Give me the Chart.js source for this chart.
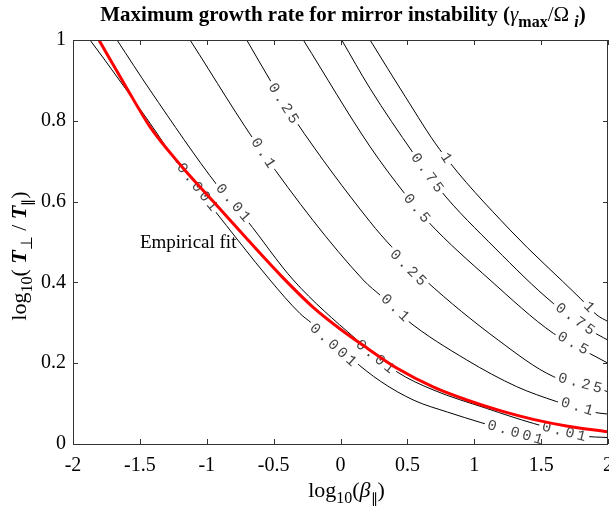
<!DOCTYPE html>
<html>
<head>
<meta charset="utf-8">
<script src="https://cdn.jsdelivr.net/npm/chart.js@4.4.1/dist/chart.umd.min.js"></script>
<style>
  html, body { margin: 0; padding: 0; background: #fff; }
  #wrap { width: 609px; height: 508px; }
</style>
</head>
<body>
<div id="wrap"><canvas id="myChart"></canvas></div>
<script>
// x = log10(beta_par), y = log10(Tperp/Tpar)
const fitX = [-1.806, -1.6, -1.424, -1.2, -0.951, -0.7, -0.44, -0.2, 0.0, 0.2, 0.42, 0.7, 0.944, 1.2, 1.441, 1.7, 2.0];
const fitY = [1.0, 0.882, 0.785, 0.692, 0.600, 0.508, 0.415, 0.337, 0.284, 0.237, 0.188, 0.140, 0.109, 0.082, 0.061, 0.044, 0.030];

const c0001X = [-1.873, -1.761, -1.424, -1.200, -0.963, -0.527, -0.303, -0.215, 0.093, 0.3, 0.55, 0.8, 1.05, 1.305, 1.47, 1.5];
const c0001Y = [1.0, 0.950, 0.794, 0.686, 0.587, 0.406, 0.323, 0.299, 0.208, 0.155, 0.108, 0.079, 0.053, 0.028, 0.012, 0.0];

const c001X = [-1.671, -1.424, -0.914, -0.701, -0.353, 0.108, 0.420, 0.692, 1.093, 1.442, 1.813, 2.0];
const c001Y = [1.0, 0.876, 0.637, 0.554, 0.406, 0.262, 0.179, 0.134, 0.088, 0.051, 0.020, 0.016];

const c01X = [-1.125, -0.579, 0.170, 0.308, 0.495, 0.944, 1.317, 1.616, 1.866, 2.0];
const c01Y = [1.0, 0.720, 0.406, 0.365, 0.307, 0.208, 0.142, 0.105, 0.080, 0.074];

const c025X = [-0.701, -0.527, -0.340, 0.221, 0.383, 0.632, 1.180, 1.591, 1.927, 2.0];
const c025Y = [1.0, 0.901, 0.802, 0.550, 0.488, 0.406, 0.257, 0.167, 0.138, 0.129];

const c05X = [-0.278, 0.221, 0.482, 0.656, 1.118, 1.591, 1.841, 2.0];
const c05Y = [1.0, 0.736, 0.619, 0.550, 0.406, 0.274, 0.228, 0.200];

const c075X = [0.009, 0.221, 0.544, 0.744, 1.155, 1.591, 1.865, 2.0];
const c075Y = [1.0, 0.880, 0.720, 0.629, 0.485, 0.348, 0.282, 0.257];

const c1X = [0.221, 0.482, 0.744, 1.267, 1.791, 1.918, 2.0];
const c1Y = [1.0, 0.861, 0.728, 0.530, 0.361, 0.319, 0.303];

// where the level numbers sit on each line
const lab0001 = [[-1.073, 0.636], [-0.056, 0.245], [1.305, 0.028]];
const lab001 = [[-0.804, 0.597], [0.258, 0.216], [1.671, 0.030]];
const lab01 = [[-0.579, 0.720], [0.407, 0.337], [1.768, 0.092]];
const lab025 = [[-0.428, 0.843], [0.505, 0.436], [1.791, 0.150]];
const lab05 = [[0.570, 0.583], [1.738, 0.249]];
const lab075 = [[0.647, 0.671], [1.753, 0.309]];
const lab1 = [[0.789, 0.708], [1.858, 0.339]];

const contours = [
  { level: '0.001', x: c0001X, y: c0001Y, labels: lab0001 },
  { level: '0.01', x: c001X, y: c001Y, labels: lab001 },
  { level: '0.1', x: c01X, y: c01Y, labels: lab01 },
  { level: '0.25', x: c025X, y: c025Y, labels: lab025 },
  { level: '0.5', x: c05X, y: c05Y, labels: lab05 },
  { level: '0.75', x: c075X, y: c075Y, labels: lab075 },
  { level: '1', x: c1X, y: c1Y, labels: lab1 }
];

const SERIF = '"Liberation Serif", "Times New Roman", serif';

function pts(xs, ys) {
  return xs.map((v, i) => ({ x: v, y: ys[i] }));
}

// red fit is dataset 0 so it is painted on top
const datasets = [{
  label: 'Empirical fit',
  data: pts(fitX, fitY),
  borderColor: '#ff0000',
  borderWidth: 3,
  pointRadius: 0,
  cubicInterpolationMode: 'monotone'
}];
contours.forEach(c => {
  datasets.push({
    label: c.level,
    data: pts(c.x, c.y),
    borderColor: '#000',
    borderWidth: 1,
    pointRadius: 0,
    cubicInterpolationMode: 'monotone'
  });
});

function richText(ctx, parts, x, y) {
  let w = 0;
  parts.forEach(p => { ctx.font = p[1]; w += ctx.measureText(p[0]).width; });
  let cx = x - w / 2;
  parts.forEach(p => {
    ctx.font = p[1];
    ctx.fillText(p[0], cx, y + (p[2] || 0));
    cx += ctx.measureText(p[0]).width;
  });
}

function drawLevelLabels(chart) {
  const ctx = chart.ctx;
  const xs = chart.scales.x, ys = chart.scales.y;
  ctx.save();
  ctx.font = '15px "Liberation Mono", monospace';
  ctx.textBaseline = 'middle';
  ctx.textAlign = 'left';
  contours.forEach((c, ci) => {
    const meta = chart.getDatasetMeta(ci + 1);
    c.labels.forEach(l => {
      const px = xs.getPixelForValue(l[0]);
      const py = ys.getPixelForValue(l[1]);
      // angle from the nearest segment of the drawn line
      let best = 1e9, ang = 0;
      for (let i = 0; i < meta.data.length - 1; i++) {
        const a = meta.data[i], b = meta.data[i + 1];
        const mx = (a.x + b.x) / 2, my = (a.y + b.y) / 2;
        const d = (mx - px) ** 2 + (my - py) ** 2;
        if (d < best) { best = d; ang = Math.atan2(b.y - a.y, b.x - a.x); }
      }
      const spacing = 3;
      const chars = c.level.split('');
      const widths = chars.map(ch => ctx.measureText(ch).width);
      const total = widths.reduce((s, v) => s + v, 0) + spacing * (chars.length - 1);
      ctx.save();
      ctx.translate(px, py);
      ctx.rotate(ang);
      ctx.fillStyle = '#fff';
      ctx.fillRect(-total / 2 - 3, -6, total + 6, 12);
      ctx.fillStyle = '#444';
      let cx = -total / 2;
      chars.forEach((ch, i) => { ctx.fillText(ch, cx, 0); cx += widths[i] + spacing; });
      ctx.restore();
    });
  });
  // text next to the red curve
  ctx.fillStyle = '#000';
  ctx.font = '19px ' + SERIF;
  ctx.textBaseline = 'alphabetic';
  ctx.fillText('Empirical fit', xs.getPixelForValue(-1.5), ys.getPixelForValue(0.485));
  ctx.restore();
}

const framePlugin = {
  id: 'frame',
  beforeDatasetDraw(chart, args) {
    if (args.index === 0) drawLevelLabels(chart);
  },
  afterDraw(chart) {
    const ctx = chart.ctx;
    const a = chart.chartArea;
    const xs = chart.scales.x, ys = chart.scales.y;
    ctx.save();
    ctx.strokeStyle = '#333';
    ctx.lineWidth = 1;
    ctx.beginPath();
    xs.ticks.forEach(t => {
      const p = Math.round(xs.getPixelForValue(t.value)) + 0.5;
      ctx.moveTo(p, a.bottom); ctx.lineTo(p, a.bottom - 5);
      ctx.moveTo(p, a.top); ctx.lineTo(p, a.top + 5);
    });
    ys.ticks.forEach(t => {
      const p = Math.round(ys.getPixelForValue(t.value)) + 0.5;
      ctx.moveTo(a.left, p); ctx.lineTo(a.left + 5, p);
      ctx.moveTo(a.right, p); ctx.lineTo(a.right - 5, p);
    });
    ctx.stroke();
    ctx.strokeRect(Math.round(a.left) + 0.5, Math.round(a.top) + 0.5,
      Math.round(a.right - a.left) - 1, Math.round(a.bottom - a.top));

    // title and axis titles
    ctx.fillStyle = '#000';
    ctx.textBaseline = 'alphabetic';
    const B = 'bold 21px ' + SERIF;
    richText(ctx, [
      ['Maximum growth rate for mirror instability (', B],
      ['\u03b3', 'italic 21px ' + SERIF],
      ['max', 'bold 16px ' + SERIF, 6],
      ['/\u03a9 ', '21px ' + SERIF],
      ['i', 'italic bold 16px ' + SERIF, 6],
      [')', B]
    ], 343, 21);

    const R = '22px ' + SERIF, S = '16px ' + SERIF, I = 'italic bold 22px ' + SERIF;
    richText(ctx, [
      ['log', R], ['10', S, 6], ['(', R], ['\u03b2', 'italic 22px ' + SERIF], ['\u2225', '14px ' + SERIF, 6], [')', R]
    ], (a.left + a.right) / 2 + 6, 497);

    ctx.translate(26, 256);
    ctx.rotate(-Math.PI / 2);
    richText(ctx, [
      ['log', R], ['10', S, 6], ['( ', R], ['T', I], ['\u22a5', S, 6], [' / ', R], ['T', I], ['\u2225', '14px ' + SERIF, 6], [')', R]
    ], 0, 0);
    ctx.restore();
  }
};

const fmt = v => String(Number(v.toFixed(2)));

new Chart(document.getElementById('myChart'), {
  type: 'line',
  data: { datasets: datasets },
  options: {
    responsive: true,
    maintainAspectRatio: false,
    animation: false,
    layout: { padding: { top: 40, right: 1, left: 0, bottom: 0 } },
    plugins: { legend: { display: false }, tooltip: { enabled: false }, title: { display: false } },
    scales: {
      x: {
        type: 'linear', min: -2, max: 2,
        grid: { display: false, drawTicks: false },
        border: { display: false },
        ticks: { stepSize: 0.5, color: '#000', padding: 10, maxRotation: 0, callback: fmt, font: { family: SERIF, size: 20 } },
        afterFit(s) { s.height = 64; s.paddingLeft = 0; s.paddingRight = 0; }
      },
      y: {
        type: 'linear', min: 0, max: 1,
        grid: { display: false, drawTicks: false },
        border: { display: false },
        ticks: { stepSize: 0.2, color: '#000', padding: 7, callback: fmt, font: { family: SERIF, size: 20 } },
        afterFit(s) { s.width = 73; s.paddingTop = 0; s.paddingBottom = 0; }
      }
    }
  },
  plugins: [framePlugin]
});
</script>
</body>
</html>
